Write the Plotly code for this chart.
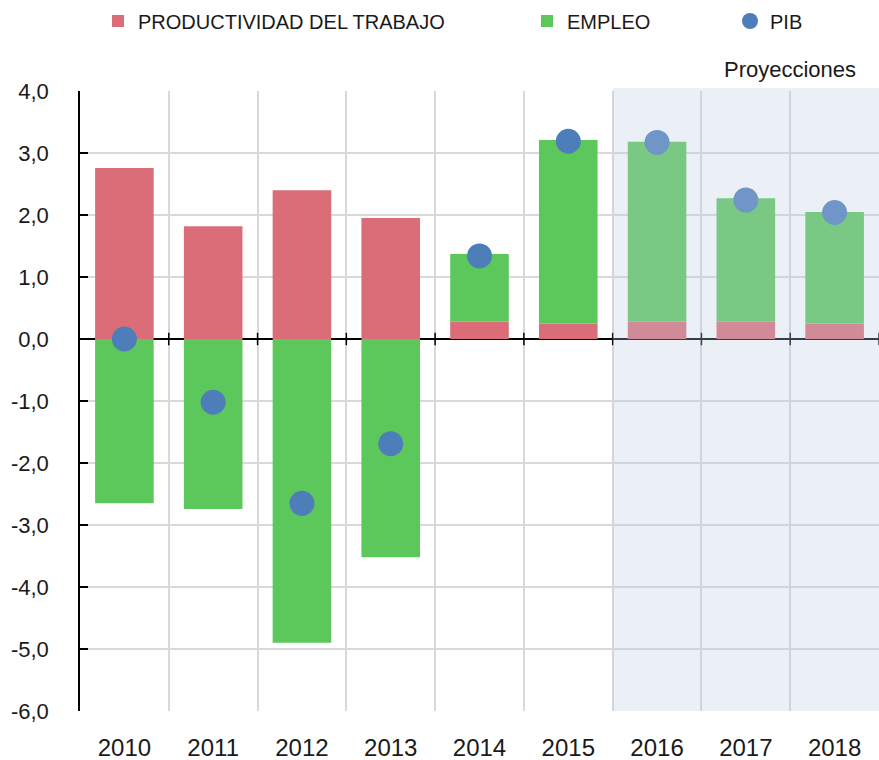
import plotly.graph_objects as go

years = [2010, 2011, 2012, 2013, 2014, 2015, 2016, 2017, 2018]
productividad = [2.76, 1.82, 2.40, 1.95, 0.28, 0.25, 0.28, 0.28, 0.25]
empleo = [-2.65, -2.74, -4.90, -3.52, 1.09, 2.96, 2.90, 1.99, 1.80]
pib = [0.0, -1.02, -2.65, -1.69, 1.34, 3.19, 3.17, 2.24, 2.04]
y_ticks = [4, 3, 2, 1, 0, -1, -2, -3, -4, -5, -6]
y_ticktext = ["4,0", "3,0", "2,0", "1,0", "0,0", "-1,0", "-2,0", "-3,0", "-4,0", "-5,0", "-6,0"]
first_projection_year = 2016

RED = "#DA6D78"
GREEN = "#5CC85C"
BLUE = "#4E7EBA"
GRID = "#D9D9D9"
FONT = "Liberation Sans"

fig = go.Figure()
fig.add_trace(go.Bar(x=years, y=productividad, name="PRODUCTIVIDAD DEL TRABAJO",
                     marker=dict(color=RED, line=dict(width=0)), width=0.66, legend="legend"))
fig.add_trace(go.Bar(x=years, y=empleo, name="EMPLEO",
                     marker=dict(color=GREEN, line=dict(width=0)), width=0.66, legend="legend2"))
fig.add_trace(go.Scatter(x=years, y=pib, name="PIB", mode="markers",
                         marker=dict(color=BLUE, size=25, line=dict(width=0)), legend="legend3"))

shapes = []
# small tick marks crossing the zero line at category boundaries
for yr in years:
    shapes.append(dict(type="line", xref="x", yref="y", x0=yr + 0.5, x1=yr + 0.5,
                       y0=-0.1, y1=0.1, line=dict(color="black", width=1.5), layer="above"))
# projections shading (semi-transparent overlay)
shapes.append(dict(type="rect", xref="x", yref="paper", x0=first_projection_year - 0.5,
                   x1=years[-1] + 0.5, y0=0, y1=1.005,
                   fillcolor="rgba(188,205,228,0.30)", line=dict(width=0), layer="above"))

leg_common = dict(orientation="h", yanchor="middle", xanchor="left",
                  xref="container", yref="container", y=1 - 21 / 760,
                  font=dict(family=FONT, size=20, color="#1a1a1a"), bgcolor="rgba(0,0,0,0)")

fig.update_layout(
    width=879, height=760,
    margin=dict(l=80, r=0, t=91, b=49, autoexpand=False),
    paper_bgcolor="white", plot_bgcolor="white",
    barmode="relative",
    showlegend=True,
    font=dict(family=FONT, color="#1a1a1a"),
    shapes=shapes,
    legend=dict(x=98 / 879, **leg_common),
    legend2=dict(x=527 / 879, **leg_common),
    legend3=dict(x=730 / 879, **leg_common),
    annotations=[dict(text="Proyecciones", xref="paper", yref="paper",
                      x=(790 - 80) / 799, y=1 + (91 - 69) / 620, xanchor="center", yanchor="middle",
                      showarrow=False, font=dict(family=FONT, size=22, color="#1a1a1a"))],
    xaxis=dict(range=[years[0] - 0.5, years[-1] + 0.5], tickvals=years,
               ticktext=[str(y) for y in years], showgrid=False, zeroline=False,
               showline=False, ticks="", ticklabelstandoff=20, automargin=False,
               tickfont=dict(family=FONT, size=24, color="#1a1a1a"),
               minor=dict(tick0=years[0] - 0.5, dtick=1, showgrid=True, gridcolor=GRID,
                          gridwidth=1.5, ticks="")),
    yaxis=dict(range=[y_ticks[-1], y_ticks[0]], tickvals=y_ticks, ticktext=y_ticktext,
               showgrid=True, gridcolor=GRID, gridwidth=1.5, automargin=False,
               zeroline=True, zerolinecolor="black", zerolinewidth=1.5,
               showline=True, linecolor="black", linewidth=1.5,
               ticks="inside", ticklen=8, tickcolor="black", tickwidth=1.5,
               ticklabelstandoff=25,
               tickfont=dict(family=FONT, size=22, color="#1a1a1a")),
)

fig.write_html("out.html", config={"displayModeBar": False},
               post_script="document.body.style.margin='0';document.body.style.overflow='hidden';")
